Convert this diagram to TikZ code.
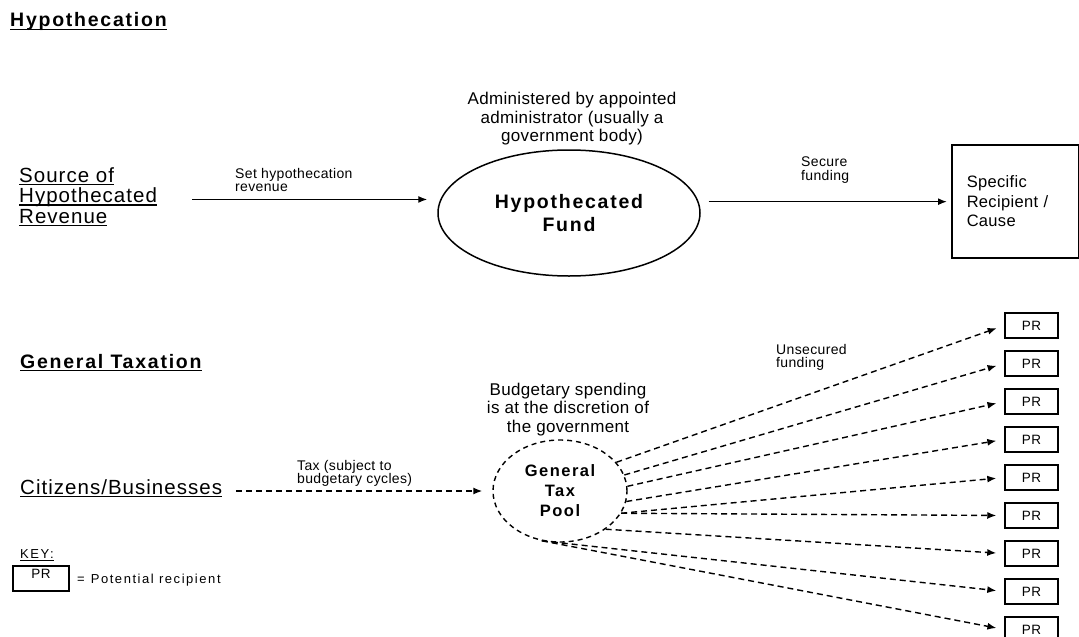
\documentclass[tikz,border=0pt]{standalone}
\usepackage{fontspec}
\setmainfont{Liberation Sans}
\newfontfamily\ttlfont[LetterSpace=9]{Liberation Sans}
\newfontfamily\bigfont[LetterSpace=5]{Liberation Sans}
\newfontfamily\midfont[LetterSpace=2]{Liberation Sans}
\newfontfamily\smlfont[LetterSpace=2.5]{Liberation Sans}
\newfontfamily\keyfont[LetterSpace=12]{Liberation Sans}
\usetikzlibrary{arrows.meta,shapes.geometric}
\newcommand{\undertext}[1]{\setbox0=\hbox{#1}\rlap{\rule[-3.2pt]{\wd0}{1.3pt}}\box0}

\begin{document}
\begin{tikzpicture}[x=1pt,y=-1pt,>={Latex[length=9pt,width=7pt]},
ttl/.style={font=\ttlfont\bfseries\fontsize{19.5}{21}\selectfont, inner sep=0pt, anchor=base west},
big/.style={font=\bigfont\fontsize{20.5}{20.5}\selectfont, align=left, inner sep=0pt},
mid/.style={font=\midfont\fontsize{17}{18.5}\selectfont, align=center, inner sep=0pt},
sml/.style={font=\smlfont\fontsize{14}{13.8}\selectfont, align=left, inner sep=0pt, anchor=north west},
keytxt/.style={font=\keyfont\fontsize{13}{13}\selectfont, inner sep=0pt, anchor=base west},
fund/.style={ellipse, draw, line width=1.5pt, inner sep=0pt, align=center, minimum width=262pt, minimum height=126pt, font=\ttlfont\bfseries\fontsize{19.5}{22.4}\selectfont},
pool/.style={ellipse, draw, line width=1.4pt, dash pattern=on 5pt off 4pt, inner sep=0pt, align=center, minimum width=134pt, minimum height=102pt, font=\ttlfont\bfseries\fontsize{16.5}{20}\selectfont},
spec/.style={rectangle, draw, line width=1.5pt, inner xsep=15pt, inner ysep=0pt, text width=97pt, minimum height=113pt, align=left, font=\midfont\fontsize{16.5}{19.5}\selectfont},
pr/.style={rectangle, draw, line width=1.5pt, minimum width=53pt, minimum height=25pt, inner sep=0pt, font=\smlfont\fontsize{13.5}{13.5}\selectfont},
arr/.style={->, line width=1.4pt},
darr/.style={->, line width=1.4pt, dash pattern=on 6pt off 4pt}]

\useasboundingbox (0,0) rectangle (1079,637);

% hypothecation
\draw (10,27) node[ttl] (T1) {\undertext{Hypothecation}};
\draw (19,167) node[big, anchor=north west] (Src) {\undertext{Source of}\\\undertext{Hypothecated}\\\undertext{Revenue}};
\draw (235,167.8) node[sml] (SetRev) {Set hypothecation\\revenue};
\draw (572,119.1) node[mid] (Adm) {Administered by appointed\\administrator (usually a\\government body)};
\draw (569,213) node[fund] (Fund) {Hypothecated\\Fund};
\draw (801,156.8) node[sml] (Sec) {Secure\\funding};
\draw (951,144) node[spec, anchor=north west] (Spec) {Specific\\Recipient /\\Cause};

\draw[arr, shorten <=35pt, shorten >=13pt] (Src.east |- Fund.174) -- (Fund.174);
\draw[arr, shorten <=10pt, shorten >=4pt] (Fund.5) -- (Fund.5 -| Spec.west);

% general taxation
\draw (20,368) node[ttl] (T2) {\undertext{General Taxation}};
\draw (20,494) node[big, anchor=base west] (Cit) {\undertext{Citizens/Businesses}};
\draw (297,459.8) node[sml] (Tax) {Tax (subject to\\budgetary cycles)};
\draw (568,409.1) node[mid] (Bud) {Budgetary spending\\is at the discretion of\\the government};
\draw (560,491) node[pool] (Pool) {General\\Tax\\Pool};
\draw (776,343.8) node[sml] (Unsec) {Unsecured\\funding};

\draw (1031.5,325.5) node[pr] (PR1) {PR};
\draw (1031.5,363.5) node[pr] (PR2) {PR};
\draw (1031.5,401.5) node[pr] (PR3) {PR};
\draw (1031.5,439.5) node[pr] (PR4) {PR};
\draw (1031.5,477.5) node[pr] (PR5) {PR};
\draw (1031.5,515.5) node[pr] (PR6) {PR};
\draw (1031.5,553.5) node[pr] (PR7) {PR};
\draw (1031.5,591.5) node[pr] (PR8) {PR};
\draw (1031.5,629.5) node[pr] (PR9) {PR};

\draw[darr, shorten <=14pt, shorten >=10pt] (Cit.east |- Pool.west) -- (Pool.west);

\draw[darr, shorten >=8pt] (Pool.27)--(PR1.west);
\draw[darr, shorten >=8pt] (Pool.14)--(PR2.west);
\draw[darr, shorten >=8pt] (Pool.4)--(PR3.west);
\draw[darr, shorten >=8pt] (Pool.351)--(PR4.west);
\draw[darr, shorten >=8pt] (Pool.340)--(PR5.west);
\draw[darr, shorten >=8pt] (Pool.340)--(PR6.west);
\draw[darr, shorten >=8pt] (Pool.320)--(PR7.west);
\draw[darr, shorten >=8pt] (Pool.250)--(PR8.west);
\draw[darr, shorten >=8pt] (Pool.250)--(PR9.west);

% key
\draw (20,558) node[keytxt] (Key) {\undertext{KEY:}};
\draw (41,578.5) node[pr, minimum width=56pt, text depth=10pt] (KPR) {PR};
\draw (77,583) node[keytxt] (Pot) {=\hspace{6pt}Potential recipient};

\end{tikzpicture}
\end{document}
